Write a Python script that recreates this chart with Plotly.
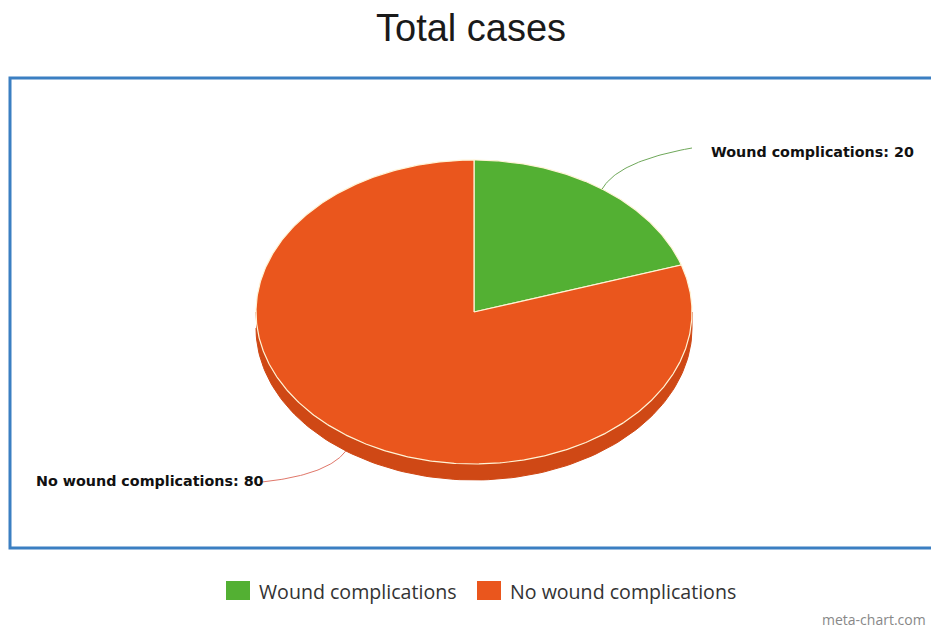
import numpy as np
import plotly.graph_objects as go

# Data
categories = ["Wound complications", "No wound complications"]
values = [20, 80]
colors = ["#53b033", "#ea561d"]
side_color = "#cf4815"
title_text = "Total cases"
credit_text = "meta-chart.com"

W, H = 931, 629
# Pie geometry in pixels (tilted 3D look: ellipse + extruded side)
CX, CY, RX, RY, DEPTH = 474, 312, 218, 152, 16

# Axis ranges so that one data unit = RX px horizontally and RY px vertically
x_range = [(0 - CX) / RX, (W - CX) / RX]
y_range = [(CY - H) / RY, (CY - 0) / RY]
d = DEPTH / RY


def px(x, y):
    """pixel -> data coordinates"""
    return (x - CX) / RX, (CY - y) / RY


def pp(x, y):
    """pixel -> paper coordinates"""
    return x / W, 1 - y / H


fig = go.Figure()

# Extruded side (lower half of the rim)
t = np.linspace(np.pi, 2 * np.pi, 120)
sx = np.concatenate([np.cos(t), np.cos(t[::-1])])
sy = np.concatenate([np.sin(t), np.sin(t[::-1]) - d])
fig.add_trace(go.Scatter(x=sx, y=sy, fill="toself", fillcolor=side_color,
                         line=dict(color=side_color, width=1), mode="lines",
                         hoverinfo="skip", showlegend=False))

total = sum(values)
start = 90.0
mids = []
for cat, val, col in zip(categories, values, colors):
    sweep = 360.0 * val / total
    ang = np.radians(np.linspace(start, start - sweep, max(int(sweep * 2), 8)))
    xs = np.concatenate([[0], np.cos(ang), [0]])
    ys = np.concatenate([[0], np.sin(ang), [0]])
    fig.add_trace(go.Scatter(x=xs, y=ys, fill="toself", fillcolor=col,
                             line=dict(color="#fff4d6", width=1.2), mode="lines",
                             name=cat, hoverinfo="name", showlegend=False))
    mids.append(np.radians(start - sweep / 2))
    start -= sweep


def bezier(p0, p1, p2, n=40):
    s = np.linspace(0, 1, n)[:, None]
    pts = (1 - s) ** 2 * np.array(p0) + 2 * (1 - s) * s * np.array(p1) + s ** 2 * np.array(p2)
    return pts[:, 0], pts[:, 1]


# Data labels with curved connectors
line_cols = ["#6fa85a", "#e0776a"]
# (control offset, end point, label anchor) in pixels for each slice
label_specs = [
    dict(ctrl=(16, -28), end=(692, 148), text_x=709, text_dy=4, anchor="left"),
    dict(ctrl=(-18, 24), end=(262, 482), text_x=266, text_dy=-1, anchor="right"),
]
for i, (cat, val) in enumerate(zip(categories, values)):
    m = mids[i]
    sx0 = CX + RX * np.cos(m)
    sy0 = CY - RY * np.sin(m)
    if np.sin(m) < 0:
        sy0 += DEPTH
    spec = label_specs[i]
    c = (sx0 + spec["ctrl"][0], sy0 + spec["ctrl"][1])
    bx, by = bezier((sx0, sy0), c, spec["end"])
    dx, dy = px(bx, by)
    fig.add_trace(go.Scatter(x=dx, y=dy, mode="lines",
                             line=dict(color=line_cols[i], width=1),
                             hoverinfo="skip", showlegend=False))
    ax, ay = pp(spec["text_x"], spec["end"][1] + spec["text_dy"])
    fig.add_annotation(x=ax, y=ay, xref="paper", yref="paper",
                       text=f"<b>{cat}: {val}</b>", showarrow=False,
                       xanchor=spec["anchor"], yanchor="middle",
                       font=dict(family="DejaVu Sans", size=14.3, color="#111"))

shapes = []
# Blue frame around the plot region
fx0, fy0 = pp(10, 78)
fx1, fy1 = pp(940, 548)
shapes.append(dict(type="rect", xref="paper", yref="paper", x0=fx0, y0=fy1, x1=fx1, y1=fy0,
                   line=dict(color="#3b7fc2", width=3), fillcolor="rgba(0,0,0,0)", layer="below"))

# Legend
legend_x = [226, 477]
for cat, col, lx in zip(categories, colors, legend_x):
    x0, y0 = pp(lx, 581)
    x1, y1 = pp(lx + 24, 600)
    shapes.append(dict(type="rect", xref="paper", yref="paper", x0=x0, y0=y1, x1=x1, y1=y0,
                       fillcolor=col, line=dict(color=col, width=0)))
    tx, ty = pp(lx + 31, 591)
    fig.add_annotation(x=tx, y=ty, xref="paper", yref="paper", text=cat, showarrow=False,
                       xanchor="left", yanchor="middle",
                       font=dict(family="Open Sans", size=19.6, color="#333"))

# Credit
cx, cy = pp(928, 619)
fig.add_annotation(x=cx, y=cy, xref="paper", yref="paper", text=credit_text, showarrow=False,
                   xanchor="right", yanchor="middle",
                   font=dict(family="Open Sans", size=14, color="#888"))

tx, ty = pp(471, 28)
fig.add_annotation(x=tx, y=ty, xref="paper", yref="paper", text=title_text, showarrow=False,
                   xanchor="center", yanchor="middle",
                   font=dict(family="Liberation Sans, Arial", size=38, color="#1a1a1a"))

fig.update_layout(
    width=W, height=H,
    margin=dict(l=0, r=0, t=0, b=0),
    paper_bgcolor="white", plot_bgcolor="white",
    shapes=shapes,
    xaxis=dict(range=x_range, visible=False, fixedrange=True),
    yaxis=dict(range=y_range, visible=False, fixedrange=True),
    showlegend=False,
)

fig.write_html("out.html")
